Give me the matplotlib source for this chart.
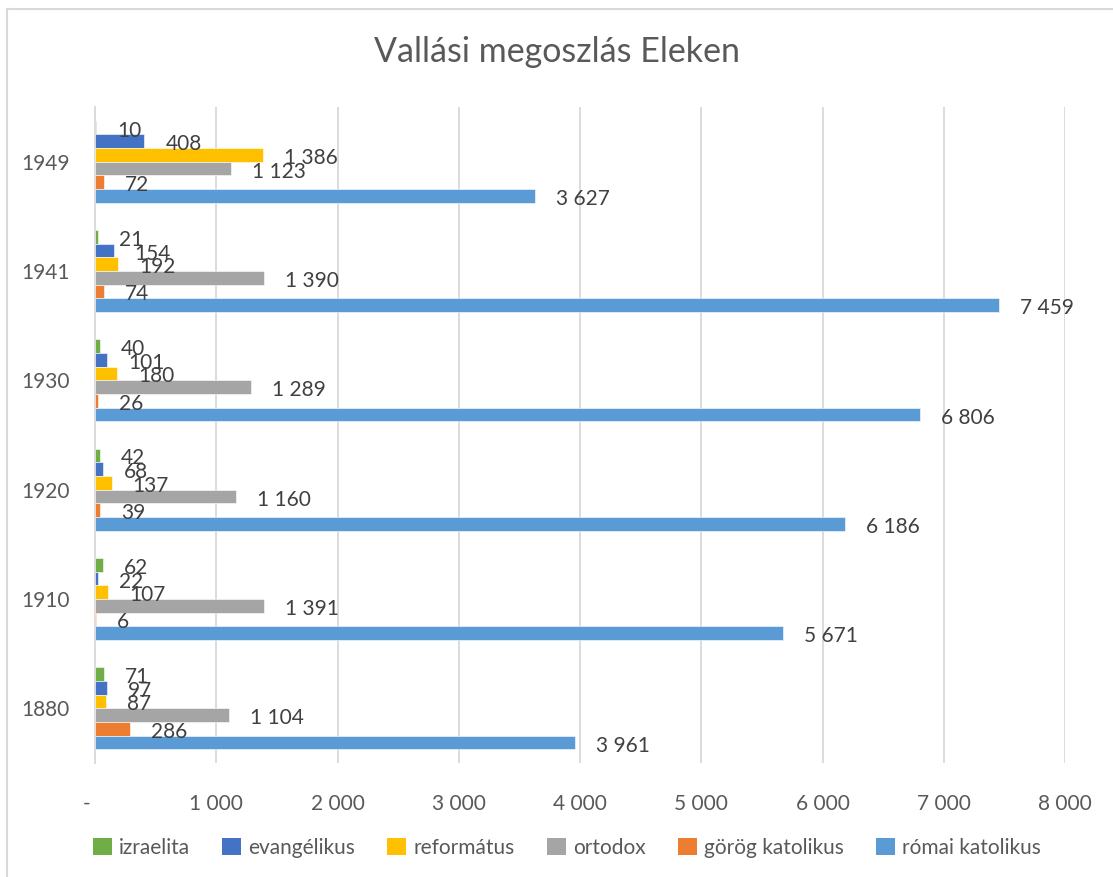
import numpy as np
import matplotlib.pyplot as plt
from matplotlib.patches import Patch
from matplotlib.lines import Line2D

plt.rcParams['font.family'] = ['Lato', 'DejaVu Sans']

# Adatok
years = ['1880', '1910', '1920', '1930', '1941', '1949']
series = ['izraelita', 'evangélikus', 'református', 'ortodox', 'görög katolikus', 'római katolikus']
izraelita = [71, 62, 42, 40, 21, 10]
evangelikus = [97, 22, 68, 101, 154, 408]
reformatus = [87, 107, 137, 180, 192, 1386]
ortodox = [1104, 1391, 1160, 1289, 1390, 1123]
gorog_katolikus = [286, 6, 39, 26, 74, 72]
romai_katolikus = [3961, 5671, 6186, 6806, 7459, 3627]
xticks = [0, 1000, 2000, 3000, 4000, 5000, 6000, 7000, 8000]

values = [izraelita, evangelikus, reformatus, ortodox, gorog_katolikus, romai_katolikus]
colors = ['#70AD47', '#4472C4', '#FFC000', '#A5A5A5', '#ED7D31', '#5B9BD5']

W, H = 1113, 877
fig = plt.figure(figsize=(W / 100, H / 100), dpi=100)
ax = fig.add_axes([95 / W, (H - 763) / H, (1065 - 95) / W, (763 - 107) / H])

# keret
fig.add_artist(Line2D([7 / W, 7 / W], [0, 1 - 9 / H], color='#D9D9D9', lw=1.5, transform=fig.transFigure))
fig.add_artist(Line2D([7 / W, 1], [1 - 9 / H, 1 - 9 / H], color='#D9D9D9', lw=1.5, transform=fig.transFigure))

h = 0.125
y = np.arange(len(years))
for k, (name, vals, c) in enumerate(zip(series, values, colors)):
    pos = y + (2.5 - k) * h
    ax.barh(pos, vals, height=h, color=c, edgecolor='white', linewidth=0.4, zorder=3)
    for p, v in zip(pos, vals):
        ax.annotate(f"{v:,}".replace(",", " "), (v, p), xytext=(21, -3),
                    textcoords='offset pixels', ha='left', va='center',
                    fontsize=15, color='#404040', zorder=4)

ax.set_xlim(0, 8000)
ax.set_ylim(-0.5, 5.5)
ax.set_xticks(xticks)
ax.set_xticklabels(['-   '] + [f"{t:,}".replace(",", " ") for t in xticks[1:]])
ax.set_yticks(y)
ax.set_yticklabels(years)
ax.tick_params(axis='both', length=0, labelsize=15, labelcolor='#595959')
ax.tick_params(axis='x', pad=22)
ax.tick_params(axis='y', pad=18)
ax.grid(axis='x', color='#D9D9D9', lw=1.3, zorder=0)
for s in ['top', 'right', 'bottom']:
    ax.spines[s].set_visible(False)
ax.spines['left'].set_color('#D9D9D9')
ax.spines['left'].set_linewidth(1.3)

fig.text(0.5, 1 - 52 / H, 'Vallási megoszlás Eleken', ha='center', va='center',
         fontsize=24.5, color='#595959')

handles = [Patch(facecolor=c, edgecolor='none') for c in colors]
fig.legend(handles, series, loc='center', bbox_to_anchor=(567 / W, 1 - 848 / H), ncol=6,
           frameon=False, fontsize=15, labelcolor='#595959', handlelength=0.9,
           handleheight=0.9, handletextpad=0.35, columnspacing=1.55)

fig.savefig('out.png', dpi=100)
